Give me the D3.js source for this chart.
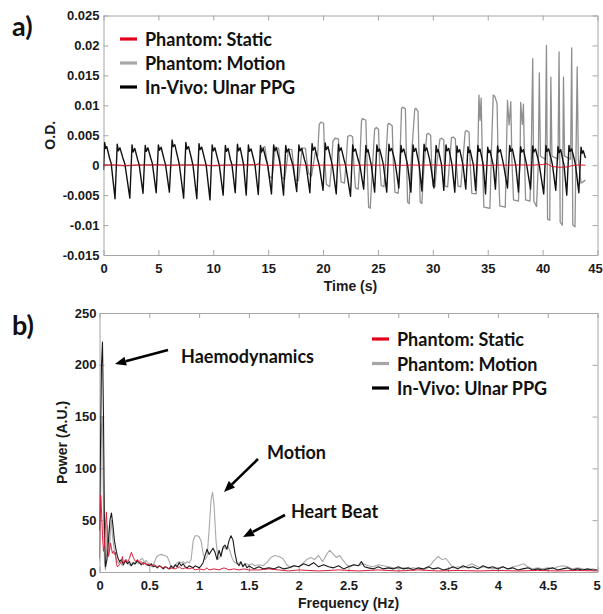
<!DOCTYPE html>
<html>
<head>
<meta charset="utf-8">
<script src="https://cdn.jsdelivr.net/npm/d3@7"></script>
<style>
  body { margin: 0; background: #fff; }
  svg { display: block; }
  .axis text { font-family: "Liberation Sans", Arial, sans-serif; font-weight: bold; font-size: 13px; fill: #1a1a1a; }
  .axis line, .axis path { stroke: #a6a6a6; }
  .title { font-family: "Liberation Sans", Arial, sans-serif; font-weight: bold; font-size: 14px; fill: #1a1a1a; }
  .lab { font-family: Lato, "Open Sans", sans-serif; font-weight: bold; fill: #111; }
</style>
</head>
<body>
<svg id="chart" width="603" height="614"></svg>
<script>
// ---------- Panel a: optical density over time ----------
const timeTicks = [0, 5, 10, 15, 20, 25, 30, 35, 40, 45];
const timeTickLabels = ["0", "5", "10", "15", "20", "25", "30", "35", "40", "45"];
const odTicks = [-0.015, -0.01, -0.005, 0, 0.005, 0.01, 0.015, 0.02, 0.025];
const odTickLabels = ["-0.015", "-0.01", "-0.005", "0", "0.005", "0.01", "0.015", "0.02", "0.025"];

// Phantom: Static  [time (s), O.D.]
const odStatic = [
  [0,0],[1,0.00005],[2,-0.00004],[3,0.00003],[4,0],[5,0.00005],[6,-0.00003],[7,0.00002],
  [8,0],[9,0.00004],[10,-0.00004],[11,0.00002],[12,0],[13,0.00004],[14,0.0001],[15,-0.00003],
  [16,0.00002],[17,0],[18,0.00004],[19,-0.00003],[20,0.00002],[21,0],[22,0.00004],[23,-0.00002],
  [24,0.00003],[25,0],[26,0.00004],[27,-0.00003],[28,0.00002],[29,0],[30,0.00004],[31,-0.00003],
  [32,0.00002],[33,0],[34,0.00004],[35,-0.00003],[36,0.00002],[37,0],[38,0.00004],[39,0],
  [40,0.0001],[40.4,0.00025],[40.8,-0.0002],[41.5,-0.00035],[42.2,-0.0003],[42.7,-0.00005],
  [43.3,0.00003],[43.9,0]
];

// Phantom: Motion  [time (s), O.D.]
const odMotion = [
  [0,0.0001],[2,-0.0001],[4,0.0001],[6,0],[8,0.0001],[10,-0.0001],[12,0.0001],[13.9,0],
  [14.2,0.0004],[14.4,0.0028],[14.7,0.0031],[14.9,0.0005],[15.1,-0.0018],[15.35,-0.0022],
  [15.5,0.0002],[15.65,0.0030],[15.95,0.0028],[16.1,0.0004],[16.25,-0.0020],[16.5,-0.0024],
  [16.7,0.0004],[16.85,0.0027],[17.15,0.0026],[17.3,0.0002],[17.45,-0.0024],[17.75,-0.0026],
  [17.95,0.0003],[18.1,0.0029],[18.4,0.0028],[18.55,0.0002],[18.7,-0.0014],[18.95,-0.0018],
  [19.15,0.0005],[19.3,0.0022],[19.5,0.0015],[19.65,0.0068],[19.8,0.0072],[20.05,0.0070],
  [20.15,0.0010],[20.3,-0.0032],[20.6,-0.0036],[20.75,-0.0005],[20.9,0.0040],[21.1,0.0045],
  [21.4,0.0044],[21.5,0.0005],[21.65,-0.0028],[21.95,-0.0030],[22.1,0.0005],[22.25,0.0048],
  [22.5,0.0050],[22.7,0.0047],[22.8,0.0002],[22.95,-0.0038],[23.2,-0.0040],[23.35,0.0005],
  [23.5,0.0074],[23.6,0.0078],[23.9,0.0075],[24.0,0.0010],[24.15,-0.0070],[24.3,-0.0072],
  [24.45,-0.0020],[24.7,0.0060],[24.85,0.0063],[25.05,0.0060],[25.15,0.0005],[25.3,-0.0034],
  [25.55,-0.0036],[25.7,0.0005],[25.9,0.0068],[26.0,0.0070],[26.3,0.0066],[26.4,0.0005],
  [26.55,-0.0045],[26.85,-0.0047],[27.0,0.0010],[27.15,0.0095],[27.25,0.0097],[27.5,0.0094],
  [27.6,0.0010],[27.7,-0.0062],[27.85,-0.0064],[28.0,0.0000],[28.35,0.0093],[28.45,0.0095],
  [28.65,0.0090],[28.75,0.0005],[28.85,-0.0062],[29.0,-0.0064],[29.2,0.0000],[29.45,0.0052],
  [29.6,0.0053],[29.8,0.0050],[29.9,0.0000],[30.0,-0.0035],[30.2,-0.0036],[30.35,0.0000],
  [30.65,0.0044],[30.8,0.0045],[31.0,0.0042],[31.05,0.0000],[31.1,-0.0035],[31.35,-0.0036],
  [31.5,0.0000],[31.7,0.0046],[31.85,0.0047],[32.05,0.0044],[32.15,0.0000],[32.3,-0.0035],
  [32.55,-0.0036],[32.7,0.0000],[32.95,0.0056],[33.05,0.0058],[33.3,0.0055],[33.4,0.0005],
  [33.55,-0.0047],[33.95,-0.0048],[34.1,0.0020],[34.2,0.0117],[34.3,0.0075],[34.4,0.0112],
  [34.5,0.0020],[34.65,-0.0070],[35.2,-0.0072],[35.35,0.0030],[35.5,0.0117],[35.65,0.0115],
  [35.85,0.0103],[35.95,0.0010],[36.1,-0.0068],[36.6,-0.0070],[36.7,0.0020],[36.8,0.0108],
  [36.95,0.0067],[37.1,0.0106],[37.2,0.0010],[37.35,-0.0058],[37.8,-0.0060],[37.95,0.0020],
  [38.0,0.0105],[38.15,0.0068],[38.25,0.0102],[38.35,0.0010],[38.45,-0.0058],[38.85,-0.0060],
  [38.95,0.0000],[39.1,0.0178],[39.2,-0.0060],[39.45,-0.0069],[39.6,0.0000],[39.7,0.0154],
  [39.8,0.0015],[40.25,0.0010],[40.35,0.0200],[40.45,-0.0090],[40.65,-0.0092],[40.75,0.0147],
  [40.85,0.0015],[41.4,0.0010],[41.5,0.0189],[41.6,-0.0095],[41.8,-0.0100],[41.9,0.0147],
  [42.0,0.0015],[42.55,0.0010],[42.65,0.0196],[42.75,-0.0100],[42.95,-0.0103],[43.15,0.0164],
  [43.25,0.0010],[43.5,-0.0030],[43.9,-0.0025]
];

// In-Vivo: Ulnar PPG  [time (s), O.D.]
const odUlnar = [
  [0,-0.0008],[0.1,0.0038],[0.2,0.0028],[0.3,0.0031],[0.55,0.0012],[0.7,0.0003],[1.05,-0.0056],
  [1.25,0.0035],[1.35,0.0024],[1.5,0.0029],[1.75,0.0013],[1.95,0.0002],[2.4,-0.0055],
  [2.6,0.0034],[2.7,0.0022],[2.85,0.0028],[3.1,0.0010],[3.25,0.0001],[3.6,-0.0047],
  [3.8,0.0033],[3.9,0.0023],[4.05,0.0029],[4.3,0.0012],[4.45,0.0003],[4.8,-0.0046],
  [5.0,0.0034],[5.1,0.0025],[5.25,0.0030],[5.5,0.0011],[5.65,0.0001],[6.0,-0.0045],
  [6.25,0.0042],[6.35,0.0031],[6.5,0.0034],[6.75,0.0014],[6.9,0.0002],[7.3,-0.0055],
  [7.5,0.0038],[7.6,0.0027],[7.75,0.0031],[8.0,0.0012],[8.15,0.0000],[8.5,-0.0056],
  [8.7,0.0036],[8.8,0.0026],[8.95,0.0030],[9.2,0.0011],[9.35,0.0000],[9.7,-0.0058],
  [9.9,0.0034],[10.0,0.0024],[10.15,0.0029],[10.4,0.0010],[10.55,0.0000],[10.9,-0.0050],
  [11.1,0.0033],[11.2,0.0023],[11.35,0.0028],[11.55,0.0010],[11.7,0.0001],[12.0,-0.0046],
  [12.2,0.0035],[12.3,0.0024],[12.45,0.0029],[12.65,0.0011],[12.75,0.0002],[13.0,-0.0050],
  [13.2,0.0034],[13.3,0.0023],[13.45,0.0027],[13.7,0.0008],[13.8,0.0000],[14.1,-0.0049],
  [14.3,0.0033],[14.4,0.0022],[14.55,0.0028],[14.8,0.0010],[14.95,0.0001],[15.3,-0.0048],
  [15.5,0.0034],[15.6,0.0024],[15.75,0.0029],[16.0,0.0010],[16.1,0.0000],[16.4,-0.0050],
  [16.6,0.0033],[16.7,0.0022],[16.85,0.0027],[17.1,0.0009],[17.25,0.0000],[17.6,-0.0044],
  [17.8,0.0034],[17.9,0.0024],[18.05,0.0028],[18.3,0.0010],[18.45,0.0001],[18.8,-0.0046],
  [19.0,0.0036],[19.1,0.0025],[19.25,0.0030],[19.5,0.0010],[19.65,0.0000],[20.0,-0.0042],
  [20.2,0.0037],[20.3,0.0026],[20.45,0.0031],[20.7,0.0011],[20.85,0.0000],[21.2,-0.0048],
  [21.4,0.0035],[21.5,0.0024],[21.65,0.0029],[21.9,0.0010],[22.05,0.0000],[22.5,-0.0052],
  [22.7,0.0034],[22.8,0.0023],[22.95,0.0027],[23.2,0.0009],[23.35,0.0000],[23.7,-0.0040],
  [23.9,0.0033],[24.0,0.0022],[24.1,0.0026],[24.3,0.0008],[24.4,0.0000],[24.7,-0.0045],
  [24.9,0.0034],[25.0,0.0023],[25.15,0.0027],[25.4,0.0009],[25.5,0.0000],[25.8,-0.0045],
  [26.0,0.0035],[26.1,0.0024],[26.25,0.0028],[26.5,0.0010],[26.6,0.0000],[26.9,-0.0038],
  [27.1,0.0033],[27.2,0.0022],[27.35,0.0027],[27.6,0.0009],[27.7,0.0000],[28.0,-0.0045],
  [28.2,0.0034],[28.3,0.0023],[28.45,0.0028],[28.65,0.0010],[28.75,0.0001],[29.0,-0.0043],
  [29.2,0.0035],[29.3,0.0024],[29.45,0.0029],[29.7,0.0010],[29.8,0.0000],[30.1,-0.0038],
  [30.3,0.0033],[30.4,0.0022],[30.5,0.0026],[30.7,0.0009],[30.8,0.0000],[31.0,-0.0042],
  [31.2,0.0034],[31.3,0.0024],[31.45,0.0028],[31.65,0.0010],[31.75,0.0000],[32.0,-0.0045],
  [32.2,0.0032],[32.3,0.0022],[32.45,0.0026],[32.65,0.0009],[32.75,0.0000],[33.0,-0.0040],
  [33.2,0.0031],[33.3,0.0021],[33.4,0.0025],[33.6,0.0008],[33.7,0.0000],[33.9,-0.0042],
  [34.1,0.0033],[34.2,0.0023],[34.3,0.0027],[34.5,0.0009],[34.6,0.0000],[34.8,-0.0048],
  [35.0,0.0030],[35.1,0.0021],[35.2,0.0025],[35.4,0.0008],[35.5,0.0000],[35.7,-0.0040],
  [35.9,0.0032],[36.0,0.0022],[36.15,0.0026],[36.35,0.0009],[36.45,0.0000],[36.8,-0.0038],
  [37.0,0.0033],[37.1,0.0023],[37.25,0.0027],[37.45,0.0009],[37.55,0.0000],[37.8,-0.0045],
  [38.0,0.0031],[38.1,0.0022],[38.25,0.0026],[38.45,0.0009],[38.55,0.0000],[38.9,-0.0040],
  [39.1,0.0032],[39.2,0.0022],[39.35,0.0027],[39.6,0.0009],[39.7,0.0000],[40.1,-0.0048],
  [40.3,0.0033],[40.4,0.0023],[40.55,0.0027],[40.8,0.0009],[40.9,0.0000],[41.2,-0.0042],
  [41.4,0.0031],[41.5,0.0021],[41.65,0.0026],[41.85,0.0008],[41.95,0.0000],[42.2,-0.0050],
  [42.4,0.0033],[42.5,0.0023],[42.65,0.0027],[42.9,0.0009],[43.0,0.0000],[43.3,-0.0046],
  [43.5,0.0030],[43.6,0.0020],[43.7,0.0024],[43.9,0.0012]
];

// ---------- Panel b: power spectra ----------
const freqTicks = [0, 0.5, 1, 1.5, 2, 2.5, 3, 3.5, 4, 4.5, 5];
const freqTickLabels = ["0", "0.5", "1", "1.5", "2", "2.5", "3", "3.5", "4", "4.5", "5"];
const powerTicks = [0, 50, 100, 150, 200, 250];
const powerTickLabels = ["0", "50", "100", "150", "200", "250"];

// Phantom: Static  [frequency (Hz), power]
const pwStatic = [
  [0,13],[0.005,45],[0.012,74],[0.02,60],[0.03,35],[0.04,20],[0.05,25],[0.06,45],[0.07,58],
  [0.08,30],[0.09,15],[0.1,20],[0.11,28],[0.12,23],[0.13,18],[0.14,20],[0.15,17],[0.16,19],
  [0.17,8],[0.18,5],[0.2,7],[0.22,10],[0.23,15],[0.24,8],[0.26,12],[0.28,9],[0.3,13],[0.32,19],
  [0.34,14],[0.36,10],[0.38,12],[0.4,9],[0.42,10],[0.44,7],[0.46,9],[0.48,6],[0.5,8],[0.52,6],
  [0.55,7],[0.58,5],[0.6,6],[0.63,4],[0.66,5],[0.7,3],[0.73,4],[0.76,3],[0.8,5],[0.83,3],
  [0.86,4],[0.9,3],[0.93,4],[0.96,2],[1.0,3],[1.05,2],[1.08,4],[1.1,2],[1.15,3],[1.2,2],
  [1.25,4],[1.3,2],[1.35,3],[1.4,2],[1.45,3],[1.5,2],[1.6,2],[1.7,3],[1.8,2],[1.9,1],[2.0,2],
  [2.2,1],[2.4,2],[2.6,1],[2.8,2],[3.0,1],[3.2,2],[3.4,1],[3.6,1.5],[3.8,1],[4.0,1.5],[4.2,1],
  [4.4,1.5],[4.6,1],[4.8,1.5],[5.0,1]
];

// Phantom: Motion  [frequency (Hz), power]
const pwMotion = [
  [0,10],[0.01,60],[0.02,140],[0.03,150],[0.04,60],[0.05,10],[0.06,2],[0.07,20],[0.08,45],
  [0.09,35],[0.1,20],[0.11,40],[0.12,50],[0.13,35],[0.15,20],[0.17,12],[0.19,8],[0.21,10],
  [0.23,6],[0.25,9],[0.27,12],[0.29,8],[0.31,6],[0.33,9],[0.35,7],[0.37,10],[0.39,8],[0.41,12],
  [0.43,13],[0.45,10],[0.47,11],[0.49,8],[0.51,6],[0.53,5],[0.55,9],[0.57,14],[0.59,16],
  [0.62,17],[0.65,16],[0.68,15],[0.7,10],[0.72,5],[0.74,3],[0.76,6],[0.78,9],[0.8,10],[0.82,9],
  [0.84,10],[0.86,8],[0.88,10],[0.9,9],[0.92,12],[0.94,30],[0.96,35],[0.98,35],[1.0,34],
  [1.02,30],[1.04,18],[1.06,12],[1.08,15],[1.1,40],[1.12,70],[1.135,77],[1.15,65],[1.17,30],
  [1.19,12],[1.21,15],[1.23,20],[1.25,24],[1.27,22],[1.29,25],[1.31,20],[1.33,14],[1.35,10],
  [1.38,8],[1.41,9],[1.44,6],[1.47,8],[1.5,7],[1.53,8],[1.56,6],[1.6,7],[1.64,6],[1.68,9],
  [1.72,14],[1.76,16],[1.8,15],[1.84,13],[1.88,7],[1.92,4],[1.96,6],[2.0,5],[2.04,8],[2.08,12],
  [2.12,14],[2.16,12],[2.2,16],[2.24,10],[2.28,17],[2.31,21],[2.34,18],[2.38,14],[2.41,16],
  [2.44,12],[2.48,7],[2.52,5],[2.56,7],[2.6,6],[2.65,8],[2.7,6],[2.75,5],[2.8,7],[2.85,6],
  [2.9,5],[2.95,4],[3.0,3],[3.05,4],[3.1,3],[3.15,4],[3.2,3],[3.25,2],[3.3,4],[3.35,10],
  [3.4,15],[3.44,12],[3.48,13],[3.52,8],[3.55,4],[3.6,5],[3.65,4],[3.7,6],[3.74,8],[3.78,6],
  [3.82,4],[3.86,5],[3.9,4],[3.95,3],[4.0,4],[4.05,5],[4.1,3],[4.15,5],[4.2,6],[4.26,8],
  [4.3,5],[4.35,3],[4.4,4],[4.45,3],[4.5,4],[4.55,3],[4.6,5],[4.65,6],[4.7,5],[4.75,3],
  [4.8,4],[4.85,3],[4.9,2],[4.95,3],[5.0,2]
];

// In-Vivo: Ulnar PPG  [frequency (Hz), power]
const pwUlnar = [
  [0,40],[0.01,120],[0.02,200],[0.03,222],[0.04,150],[0.05,40],[0.06,5],[0.075,12],[0.09,30],
  [0.105,50],[0.12,57],[0.135,45],[0.15,30],[0.165,22],[0.18,15],[0.2,10],[0.22,12],[0.24,7],
  [0.26,11],[0.28,8],[0.3,10],[0.32,6],[0.34,9],[0.36,8],[0.38,11],[0.4,9],[0.42,7],[0.44,9],
  [0.46,8],[0.48,7],[0.5,6],[0.52,8],[0.54,5],[0.56,6],[0.58,4],[0.6,6],[0.62,5],[0.64,3],
  [0.66,5],[0.68,4],[0.7,3],[0.72,6],[0.74,4],[0.76,7],[0.78,5],[0.8,9],[0.82,6],[0.84,8],
  [0.86,5],[0.88,4],[0.9,6],[0.92,5],[0.94,4],[0.96,6],[0.98,5],[1.0,4],[1.02,6],[1.04,9],
  [1.06,16],[1.08,22],[1.1,17],[1.12,20],[1.14,23],[1.16,19],[1.18,12],[1.2,21],[1.22,15],
  [1.24,24],[1.26,26],[1.28,22],[1.3,30],[1.32,35],[1.34,31],[1.36,18],[1.38,9],[1.4,6],
  [1.42,10],[1.44,5],[1.46,8],[1.48,4],[1.5,6],[1.55,3],[1.6,5],[1.65,3],[1.7,4],[1.75,3],
  [1.8,5],[1.85,3],[1.9,4],[1.95,6],[2.0,5],[2.05,8],[2.1,6],[2.15,9],[2.2,5],[2.25,7],[2.3,5],
  [2.35,4],[2.4,6],[2.45,3],[2.5,5],[2.55,7],[2.6,6],[2.63,10],[2.66,5],[2.7,4],[2.75,3],
  [2.8,5],[2.85,3],[2.9,4],[2.95,3],[3.0,5],[3.05,3],[3.1,4],[3.15,2],[3.2,4],[3.25,3],[3.3,5],
  [3.35,3],[3.4,4],[3.45,2],[3.5,3],[3.55,5],[3.6,3],[3.65,6],[3.7,4],[3.75,5],[3.8,3],[3.85,6],
  [3.9,4],[3.95,5],[4.0,3],[4.05,5],[4.1,3],[4.15,4],[4.2,2],[4.25,3],[4.3,4],[4.35,2],[4.4,3],
  [4.45,2],[4.5,3],[4.55,4],[4.6,2],[4.65,3],[4.7,4],[4.75,2],[4.8,3],[4.85,2],[4.9,3],[4.95,2],
  [5.0,2]
];

const seriesNames = ["Phantom: Static", "Phantom: Motion", "In-Vivo: Ulnar PPG"];
const legendColors = ["#e3001b", "#a6a6a6", "#000000"];

const svg = d3.select("#chart");

function drawPanel(o) {
  const g = svg.append("g");
  const x = d3.scaleLinear().domain(o.xDomain).range([o.left, o.right]);
  const y = d3.scaleLinear().domain(o.yDomain).range([o.bottom, o.top]);

  const clipId = "clip-" + o.id;
  svg.append("clipPath").attr("id", clipId).append("rect")
    .attr("x", o.left).attr("y", o.top)
    .attr("width", o.right - o.left).attr("height", o.bottom - o.top);

  // axes: inward ticks on all four sides
  const fmt = (labels, ticks) => d => labels[ticks.indexOf(d)];
  const bottomAxis = g.append("g").attr("class", "axis").attr("transform", `translate(0,${o.bottom})`)
    .call(d3.axisBottom(x).tickValues(o.xTicks).tickFormat(fmt(o.xLabels, o.xTicks))
      .tickSizeInner(-5).tickSizeOuter(0).tickPadding(8.5));
  // keep the last label inside the page edge
  bottomAxis.selectAll(".tick").filter(d => d === o.xTicks[o.xTicks.length - 1])
    .select("text").attr("dx", o.lastDx || 0);
  g.append("g").attr("class", "axis").attr("transform", `translate(0,${o.top})`)
    .call(d3.axisTop(x).tickValues(o.xTicks).tickFormat("").tickSizeInner(-5).tickSizeOuter(0));
  g.append("g").attr("class", "axis").attr("transform", `translate(${o.left},0)`)
    .call(d3.axisLeft(y).tickValues(o.yTicks).tickFormat(fmt(o.yLabels, o.yTicks))
      .tickSizeInner(-5).tickSizeOuter(0).tickPadding(o.yPad));
  g.append("g").attr("class", "axis").attr("transform", `translate(${o.right},0)`)
    .call(d3.axisRight(y).tickValues(o.yTicks).tickFormat("").tickSizeInner(-5).tickSizeOuter(0));

  const line = d3.line().x(d => x(d[0])).y(d => y(d[1]));
  const lines = g.append("g").attr("clip-path", `url(#${clipId})`);
  o.series.forEach(s => {
    lines.append("path").datum(s.data)
      .attr("fill", "none").attr("stroke", s.color).attr("stroke-width", s.width)
      .attr("stroke-linejoin", "round").attr("d", line);
  });

  // legend
  const lg = g.append("g");
  seriesNames.forEach((name, i) => {
    const cy = o.legY + i * o.legStep;
    lg.append("line").attr("x1", o.legX).attr("x2", o.legX + 17)
      .attr("y1", cy).attr("y2", cy)
      .attr("stroke", legendColors[i]).attr("stroke-width", 3.2);
    lg.append("text").attr("class", "lab").attr("x", o.legX + 25).attr("y", cy + 7)
      .style("font-size", "18px").text(name);
  });

  // axis titles
  g.append("text").attr("class", "title").attr("text-anchor", "middle")
    .attr("x", (o.left + o.right) / 2).attr("y", o.xTitleY).text(o.xTitle);
  g.append("text").attr("class", "title").attr("text-anchor", "middle")
    .attr("transform", `translate(${o.yTitleX},${(o.top + o.bottom) / 2}) rotate(-90)`)
    .text(o.yTitle);

  // panel letter
  g.append("text").attr("class", "lab").attr("x", 12).attr("y", o.letterY)
    .style("font-size", "27px").text(o.letter);

  return { x, y, g };
}

drawPanel({
  id: "a", letter: "a)", letterY: 36,
  left: 103.5, right: 597.5, top: 15.5, bottom: 255,
  xDomain: [0, 45], yDomain: [-0.015, 0.025],
  xTicks: timeTicks, xLabels: timeTickLabels, yTicks: odTicks, yLabels: odTickLabels, yPad: 4,
  lastDx: -2.5,
  xTitle: "Time (s)", xTitleY: 291, yTitle: "O.D.", yTitleX: 55,
  legX: 120, legY: 39, legStep: 24,
  series: [
    { data: odMotion, color: "#8f8f8f", width: 1.3 },
    { data: odUlnar, color: "#111111", width: 1.4 },
    { data: odStatic, color: "#e3001b", width: 0.9 }
  ]
});

drawPanel({
  id: "b", letter: "b)", letterY: 335,
  left: 99.5, right: 597.5, top: 313, bottom: 572,
  xDomain: [0, 5], yDomain: [0, 250],
  xTicks: freqTicks, xLabels: freqTickLabels, yTicks: powerTicks, yLabels: powerTickLabels, yPad: 3,
  lastDx: -1,
  xTitle: "Frequency (Hz)", xTitleY: 608, yTitle: "Power (A.U.)", yTitleX: 67,
  legX: 372, legY: 339, legStep: 24.5,
  series: [
    { data: pwMotion, color: "#a8a8a8", width: 1.1 },
    { data: pwUlnar, color: "#1a1a1a", width: 1.1 },
    { data: pwStatic, color: "#d8203c", width: 1 }
  ]
});

// annotations with arrows
const notes = [
  { text: "Haemodynamics", tx: 181, ty: 363, from: [168, 350], to: [115, 364] },
  { text: "Motion", tx: 267, ty: 459, from: [258, 459], to: [224, 492] },
  { text: "Heart Beat", tx: 291, ty: 518, from: [285, 515], to: [243, 537] }
];
const ag = svg.append("g");
notes.forEach(n => {
  ag.append("text").attr("class", "lab").attr("x", n.tx).attr("y", n.ty)
    .style("font-size", "18px").text(n.text);
  const dx = n.to[0] - n.from[0], dy = n.to[1] - n.from[1];
  const len = Math.hypot(dx, dy), ux = dx / len, uy = dy / len;
  const headL = 11, headW = 4.5;
  const bx = n.to[0] - ux * headL, by = n.to[1] - uy * headL;
  ag.append("line").attr("x1", n.from[0]).attr("y1", n.from[1]).attr("x2", bx).attr("y2", by)
    .attr("stroke", "#000").attr("stroke-width", 2.6);
  ag.append("path")
    .attr("d", `M${n.to[0]},${n.to[1]} L${bx - uy * headW},${by + ux * headW} L${bx + uy * headW},${by - ux * headW} Z`)
    .attr("fill", "#000");
});
</script>
</body>
</html>
